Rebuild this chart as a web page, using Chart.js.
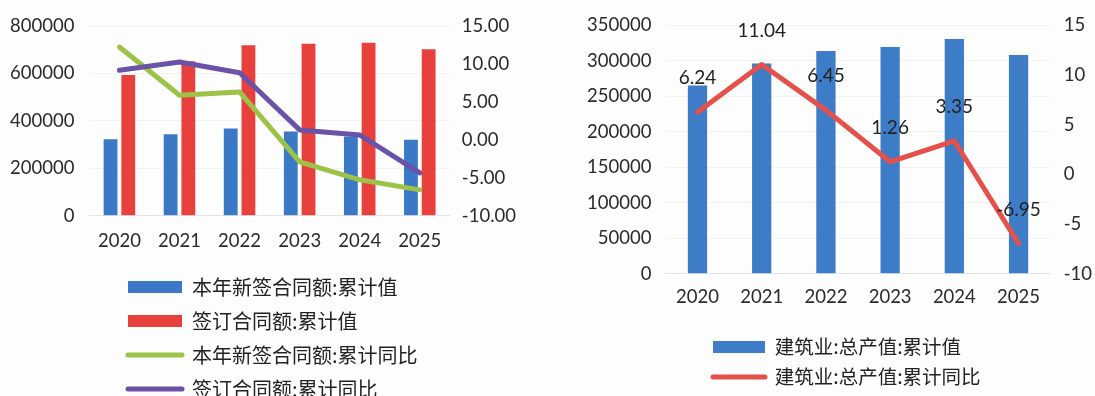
<!DOCTYPE html>
<html><head><meta charset="utf-8">
<script src="https://cdn.jsdelivr.net/npm/chart.js@4.4.1/dist/chart.umd.min.js"></script>
<style>
html,body{margin:0;padding:0;background:#fdfdfd;overflow:hidden;width:1095px;height:396px;}
.box{position:absolute;top:0;}
</style></head><body>
<div class="box" style="left:0;width:560px;height:430px"><canvas id="c1" width="560" height="430"></canvas></div>
<div class="box" style="left:570px;width:525px;height:396px"><canvas id="c2" width="525" height="396"></canvas></div>
<script>
// ---- data ----
const years = ['2020', '2021', '2022', '2023', '2024', '2025'];
const newContractLabel = '本年新签合同额:累计值';
const signedContractLabel = '签订合同额:累计值';
const newContractYoYLabel = '本年新签合同额:累计同比';
const signedContractYoYLabel = '签订合同额:累计同比';
const newContractValue = [323000, 344000, 368000, 355000, 334000, 321000];
const signedContractValue = [594000, 652000, 719000, 726000, 730000, 702000];
const newContractYoY = [12.24, 5.88, 6.32, -2.90, -5.26, -6.58];
const signedContractYoY = [9.17, 10.26, 8.86, 1.32, 0.66, -4.34];

const outputLabel = '建筑业:总产值:累计值';
const outputYoYLabel = '建筑业:总产值:累计同比';
const outputValue = [265000, 296000, 313600, 319200, 330400, 308000];
const outputYoY = [6.24, 11.04, 6.45, 1.26, 3.35, -6.95];

// ---- helpers ----
const tickFont = { family: 'Lato', size: 18.5 };
const tickColor = '#2a2a2a';
const gridColor = 'rgba(0,0,0,0.045)';

function legendLabels(chart) {
  const items = Chart.defaults.plugins.legend.labels.generateLabels(chart);
  items.forEach(it => {
    const ds = chart.data.datasets[it.datasetIndex];
    if (ds.type === 'line') {
      it.pointStyle = 'line';
      it.strokeStyle = ds.borderColor;
      it.lineWidth = 5;
      it.lineCap = 'round';
    } else {
      it.pointStyle = 'rect';
      it.lineWidth = 0;
    }
  });
  return items.sort((a, b) => a.datasetIndex - b.datasetIndex);
}

const legendPlace = {
  id: 'legendPlace',
  afterLayout(chart, args, opts) {
    const lg = chart.legend;
    if (!lg) return;
    const pad = lg.options.labels.padding;
    const fs = lg.options.labels.font.size;
    lg.left = opts.x - pad;
    lg.right = lg.left + opts.w;
    lg.top = opts.cy - pad - fs / 2;
    lg.bottom = lg.top + 200;
  }
};

const pointLabels = {
  id: 'pointLabels',
  afterDatasetsDraw(chart, args, opts) {
    if (!opts || opts.dataset === undefined) return;
    const meta = chart.getDatasetMeta(opts.dataset);
    const data = chart.data.datasets[opts.dataset].data;
    const ctx = chart.ctx;
    ctx.save();
    ctx.font = opts.size + 'px ' + opts.family;
    ctx.fillStyle = opts.color;
    ctx.textAlign = 'center';
    ctx.textBaseline = 'middle';
    meta.data.forEach((pt, i) => {
      ctx.fillText(data[i].toFixed(2), pt.x, pt.y - opts.offset);
    });
    ctx.restore();
  }
};

const plain = v => String(v);
// Chart.js reserves the tick padding twice; keep it only once
const trimFit = s => { s.width -= s.options.ticks.padding; };

// ---- left chart ----
new Chart(document.getElementById('c1'), {
  type: 'bar',
  data: {
    labels: years,
    datasets: [
      { type: 'bar', label: newContractLabel, data: newContractValue, backgroundColor: '#3b79c6', yAxisID: 'y', order: 2, categoryPercentage: 0.59, barPercentage: 0.78 },
      { type: 'bar', label: signedContractLabel, data: signedContractValue, backgroundColor: '#e8403d', yAxisID: 'y', order: 2, categoryPercentage: 0.59, barPercentage: 0.78 },
      { type: 'line', label: newContractYoYLabel, data: newContractYoY, borderColor: '#9cc348', backgroundColor: '#9cc348', borderWidth: 5, pointRadius: 0, borderCapStyle: 'round', borderJoinStyle: 'round', yAxisID: 'y1', order: 1 },
      { type: 'line', label: signedContractYoYLabel, data: signedContractYoY, borderColor: '#6a52a8', backgroundColor: '#6a52a8', borderWidth: 5, pointRadius: 0, borderCapStyle: 'round', borderJoinStyle: 'round', yAxisID: 'y1', order: 0 }
    ]
  },
  options: {
    responsive: false,
    animation: false,
    events: [],
    layout: { padding: { top: 25, left: 10, right: 44, bottom: 18 } },
    scales: {
      x: {
        grid: { display: false, drawTicks: false },
        border: { display: true, color: '#e4e4e4' },
        ticks: { font: tickFont, color: tickColor, padding: 14 }
      },
      y: {
        position: 'left', min: 0, max: 800000,
        grid: { color: gridColor, drawTicks: false },
        border: { display: false },
        afterFit: trimFit,
        ticks: { stepSize: 200000, font: tickFont, color: tickColor, padding: 15, callback: plain }
      },
      y1: {
        position: 'right', min: -10, max: 15,
        grid: { display: false, drawTicks: false },
        border: { display: false },
        afterFit: trimFit,
        ticks: { stepSize: 5, font: tickFont, color: tickColor, padding: 12, callback: v => Number(v).toFixed(2) }
      }
    },
    plugins: {
      tooltip: { enabled: false },
      legend: {
        position: 'bottom', align: 'start', fullSize: false,
        labels: {
          usePointStyle: true, pointStyleWidth: 54, boxHeight: 12, padding: 14,
          font: { family: 'Noto Sans CJK SC', size: 20 }, color: '#222',
          generateLabels: legendLabels
        }
      },
      legendPlace: { x: 128, cy: 287, w: 330 }
    }
  },
  plugins: [legendPlace]
});

// ---- right chart ----
new Chart(document.getElementById('c2'), {
  type: 'bar',
  data: {
    labels: years,
    datasets: [
      { type: 'bar', label: outputLabel, data: outputValue, backgroundColor: '#3d7cc7', yAxisID: 'y', order: 2, categoryPercentage: 0.5, barPercentage: 0.6 },
      { type: 'line', label: outputYoYLabel, data: outputYoY, borderColor: '#e6504a', backgroundColor: '#e6504a', borderWidth: 5, pointRadius: 0, borderCapStyle: 'round', borderJoinStyle: 'round', yAxisID: 'y1', order: 1 }
    ]
  },
  options: {
    responsive: false,
    animation: false,
    events: [],
    layout: { padding: { top: 23, left: 17, right: 3, bottom: 6 } },
    scales: {
      x: {
        grid: { display: false, drawTicks: false },
        border: { display: true, color: '#e4e4e4' },
        ticks: { font: tickFont, color: tickColor, padding: 12 }
      },
      y: {
        position: 'left', min: 0, max: 350000,
        grid: { color: gridColor, drawTicks: false },
        border: { display: false },
        afterFit: trimFit,
        ticks: { stepSize: 50000, font: tickFont, color: tickColor, padding: 14, callback: plain }
      },
      y1: {
        position: 'right', min: -10, max: 15,
        grid: { display: false, drawTicks: false },
        border: { display: false },
        afterFit: trimFit,
        ticks: { stepSize: 5, font: tickFont, color: tickColor, padding: 13, callback: plain }
      }
    },
    plugins: {
      tooltip: { enabled: false },
      legend: {
        position: 'bottom', align: 'start', fullSize: false,
        labels: {
          usePointStyle: true, pointStyleWidth: 52, boxHeight: 12, padding: 10.5,
          font: { family: 'Noto Sans CJK SC', size: 19.5 }, color: '#222',
          generateLabels: legendLabels
        }
      },
      legendPlace: { x: 143, cy: 347, w: 320 },
      pointLabels: { dataset: 1, offset: 34, size: 19, family: 'Lato', color: '#222' }
    }
  },
  plugins: [legendPlace, pointLabels]
});
</script>
</body></html>
